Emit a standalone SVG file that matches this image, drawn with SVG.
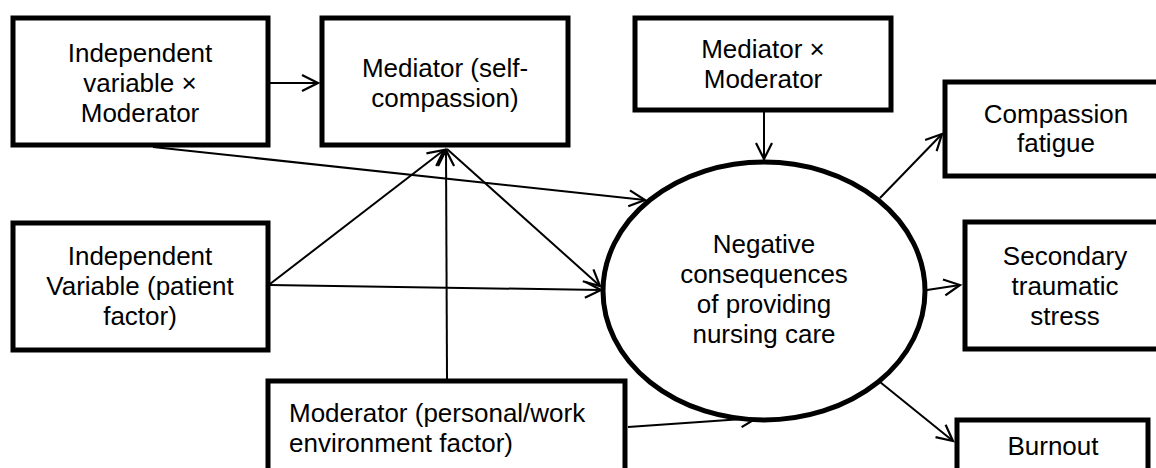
<svg xmlns="http://www.w3.org/2000/svg" width="1156" height="468" viewBox="0 0 1156 468">
<style>
.box{fill:#fff;stroke:#000;stroke-width:5}
.t{font-family:"Liberation Sans",Arial,sans-serif;font-size:26px;fill:#000}
.c{text-anchor:middle}
.ln{stroke:#000;stroke-width:2;fill:none;marker-end:url(#ah)}
</style>
<defs>
<marker id="ah" markerUnits="userSpaceOnUse" markerWidth="40" markerHeight="40" viewBox="-20 -20 40 40" refX="0" refY="0" orient="auto">
<path d="M-16,-8 L0,0 L-16,8" fill="none" stroke="#000" stroke-width="2.2"/>
</marker>
</defs>
<rect width="1156" height="468" fill="#fff"/>
<g id="connectors">
<line class="ln" x1="270" y1="83" x2="318" y2="83"/>
<line class="ln" x1="153" y1="147" x2="645" y2="200"/>
<line class="ln" x1="270" y1="285" x2="601" y2="290"/>
<line class="ln" x1="270" y1="284" x2="444" y2="150"/>
<line class="ln" x1="447" y1="379" x2="446" y2="150"/>
<line class="ln" x1="447" y1="149" x2="600" y2="286"/>
<line class="ln" x1="764" y1="112" x2="764" y2="159"/>
<line class="ln" x1="628" y1="427" x2="757" y2="418"/>
<line class="ln" x1="880" y1="198" x2="942" y2="134"/>
<line class="ln" x1="927" y1="290" x2="960" y2="285"/>
<line class="ln" x1="880" y1="382" x2="953" y2="441"/>
</g>
<g id="iv-x-mod">
<rect class="box" x="13" y="18" width="255" height="127"/>
<text class="t c" x="140" y="62">Independent</text>
<text class="t c" x="140" y="92">variable ×</text>
<text class="t c" x="140" y="122">Moderator</text>
</g>
<g id="mediator">
<rect class="box" x="322" y="18" width="246" height="127"/>
<text class="t c" x="445" y="77">Mediator (self-</text>
<text class="t c" x="445" y="107">compassion)</text>
</g>
<g id="med-x-mod">
<rect class="box" x="635" y="18" width="256" height="92"/>
<text class="t c" x="763" y="58">Mediator ×</text>
<text class="t c" x="763" y="88">Moderator</text>
</g>
<g id="iv">
<rect class="box" x="13" y="223" width="255" height="127"/>
<text class="t c" x="140" y="265">Independent</text>
<text class="t c" x="140" y="295">Variable (patient</text>
<text class="t c" x="140" y="325">factor)</text>
</g>
<g id="moderator">
<rect class="box" x="268" y="381" width="357" height="100"/>
<text class="t" x="289" y="422">Moderator (personal/work</text>
<text class="t" x="289" y="452">environment factor)</text>
</g>
<g id="outcome">
<ellipse cx="764" cy="291" rx="161" ry="129" fill="#fff" stroke="#000" stroke-width="5"/>
<text class="t c" x="764" y="253">Negative</text>
<text class="t c" x="764" y="283">consequences</text>
<text class="t c" x="764" y="313">of providing</text>
<text class="t c" x="764" y="343">nursing care</text>
</g>
<g id="compassion-fatigue">
<rect class="box" x="945" y="82" width="230" height="94"/>
<text class="t c" x="1056" y="123">Compassion</text>
<text class="t c" x="1056" y="152">fatigue</text>
</g>
<g id="sts">
<rect class="box" x="965" y="222" width="220" height="127"/>
<text class="t c" x="1065" y="265">Secondary</text>
<text class="t c" x="1065" y="295">traumatic</text>
<text class="t c" x="1065" y="325">stress</text>
</g>
<g id="burnout">
<rect class="box" x="957" y="420" width="191" height="60"/>
<text class="t c" x="1053" y="455">Burnout</text>
</g>
</svg>
